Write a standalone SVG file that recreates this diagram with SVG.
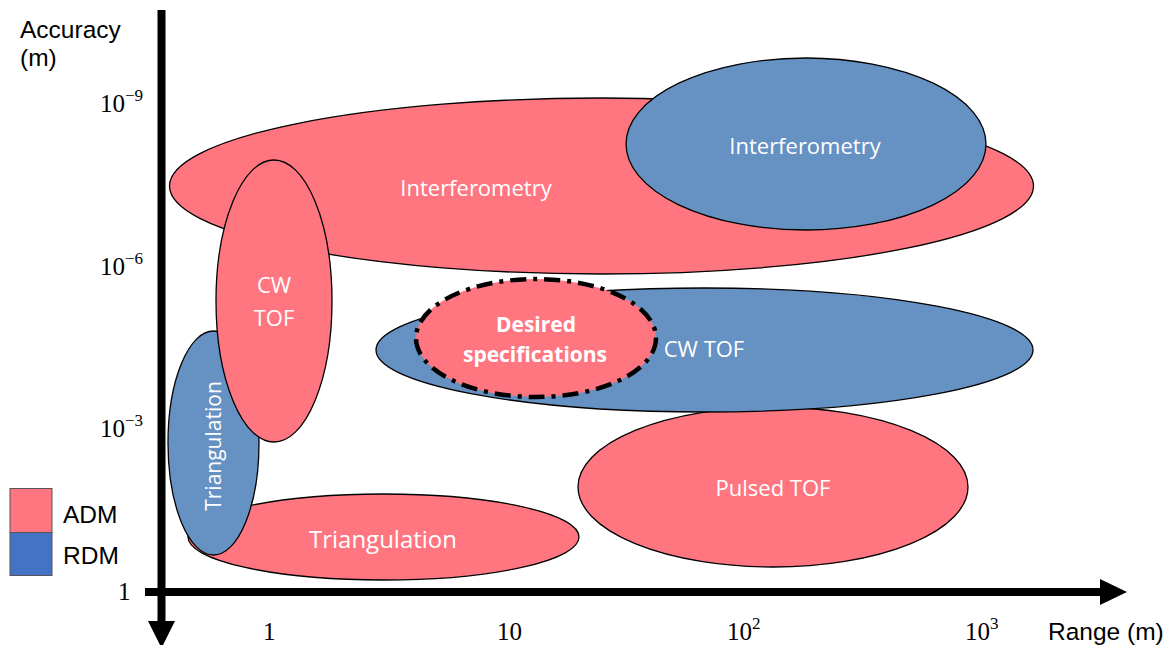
<svg xmlns="http://www.w3.org/2000/svg" width="1176" height="645" viewBox="0 0 1176 645">
<style>
.adm{fill:#FF7681;stroke:#000;stroke-width:1.3}
.rdm{fill:#6691C3;stroke:#000;stroke-width:1.3}
.lbl{font-family:"Open Sans","Noto Sans",sans-serif;fill:#fff;text-anchor:middle;dominant-baseline:central}
.ax{font-family:"Liberation Sans",Arial,sans-serif;font-size:24.5px;fill:#000}
.tick{font-family:"Liberation Serif","DejaVu Serif",serif;font-size:25px;fill:#000}
.sup{font-size:17px}
</style>
<rect width="1176" height="645" fill="#fff"/>
<g id="axes">
<rect x="157.5" y="10" width="8" height="614" fill="#000"/>
<polygon points="148,621 175,621 161.5,648" fill="#000"/>
<rect x="145" y="588" width="958" height="8" fill="#000"/>
<polygon points="1100,579 1100,605 1127,592" fill="#000"/>
</g>
<g id="axis-labels">
<text class="ax" x="20" y="38">Accuracy</text>
<text class="ax" x="20" y="66">(m)</text>
<text class="tick" x="100" y="112">10<tspan class="sup" dy="-11">−9</tspan></text>
<text class="tick" x="100" y="275">10<tspan class="sup" dy="-11">−6</tspan></text>
<text class="tick" x="100" y="437">10<tspan class="sup" dy="-11">−3</tspan></text>
<text class="tick" x="118" y="600">1</text>
<text class="tick" x="263" y="640">1</text>
<text class="tick" x="497" y="640">10</text>
<text class="tick" x="727" y="640">10<tspan class="sup" dy="-11">2</tspan></text>
<text class="tick" x="965" y="640">10<tspan class="sup" dy="-11">3</tspan></text>
<text class="ax" x="1048" y="640">Range (m)</text>
</g>
<g id="interferometry-adm">
<ellipse class="adm" cx="601.5" cy="186" rx="432" ry="88"/>
<text class="lbl" x="476" y="187" font-size="22">Interferometry</text>
</g>
<g id="interferometry-rdm">
<ellipse class="rdm" cx="806" cy="144" rx="180" ry="86"/>
<text class="lbl" x="805" y="145" font-size="22">Interferometry</text>
</g>
<g id="pulsed-tof-adm">
<ellipse class="adm" cx="773" cy="487" rx="195" ry="80"/>
<text class="lbl" x="773" y="487" font-size="22">Pulsed TOF</text>
</g>
<g id="cw-tof-rdm">
<ellipse class="rdm" cx="704.5" cy="350" rx="328.5" ry="62"/>
<text class="lbl" x="704" y="348" font-size="22">CW TOF</text>
</g>
<g id="desired-specifications">
<ellipse cx="536" cy="338" rx="120" ry="59" fill="#FF7681" stroke="#000" stroke-width="4.5" stroke-dasharray="16 7 4 7"/>
<text class="lbl" x="536" y="324" font-size="21" font-weight="bold">Desired</text>
<text class="lbl" x="535" y="354" font-size="21" font-weight="bold">specifications</text>
</g>
<g id="triangulation-adm">
<ellipse class="adm" cx="383.5" cy="537" rx="195.5" ry="43"/>
<text class="lbl" x="383" y="538" font-size="24">Triangulation</text>
</g>
<g id="triangulation-rdm">
<ellipse class="rdm" cx="213.5" cy="443" rx="45.5" ry="112"/>
<text class="lbl" font-size="21" transform="translate(213,446) rotate(-90)">Triangulation</text>
</g>
<g id="cw-tof-adm">
<ellipse class="adm" cx="274" cy="301" rx="58" ry="141"/>
<text class="lbl" x="274" y="284" font-size="22">CW</text>
<text class="lbl" x="274" y="317" font-size="22">TOF</text>
</g>
<g id="legend">
<rect x="10" y="488.5" width="42" height="44" fill="#FF7681" stroke="#555" stroke-width="1"/>
<rect x="10" y="532.5" width="42" height="43" fill="#4472C4" stroke="#555" stroke-width="1"/>
<text class="ax" x="63" y="523">ADM</text>
<text class="ax" x="63" y="564">RDM</text>
</g>
</svg>
